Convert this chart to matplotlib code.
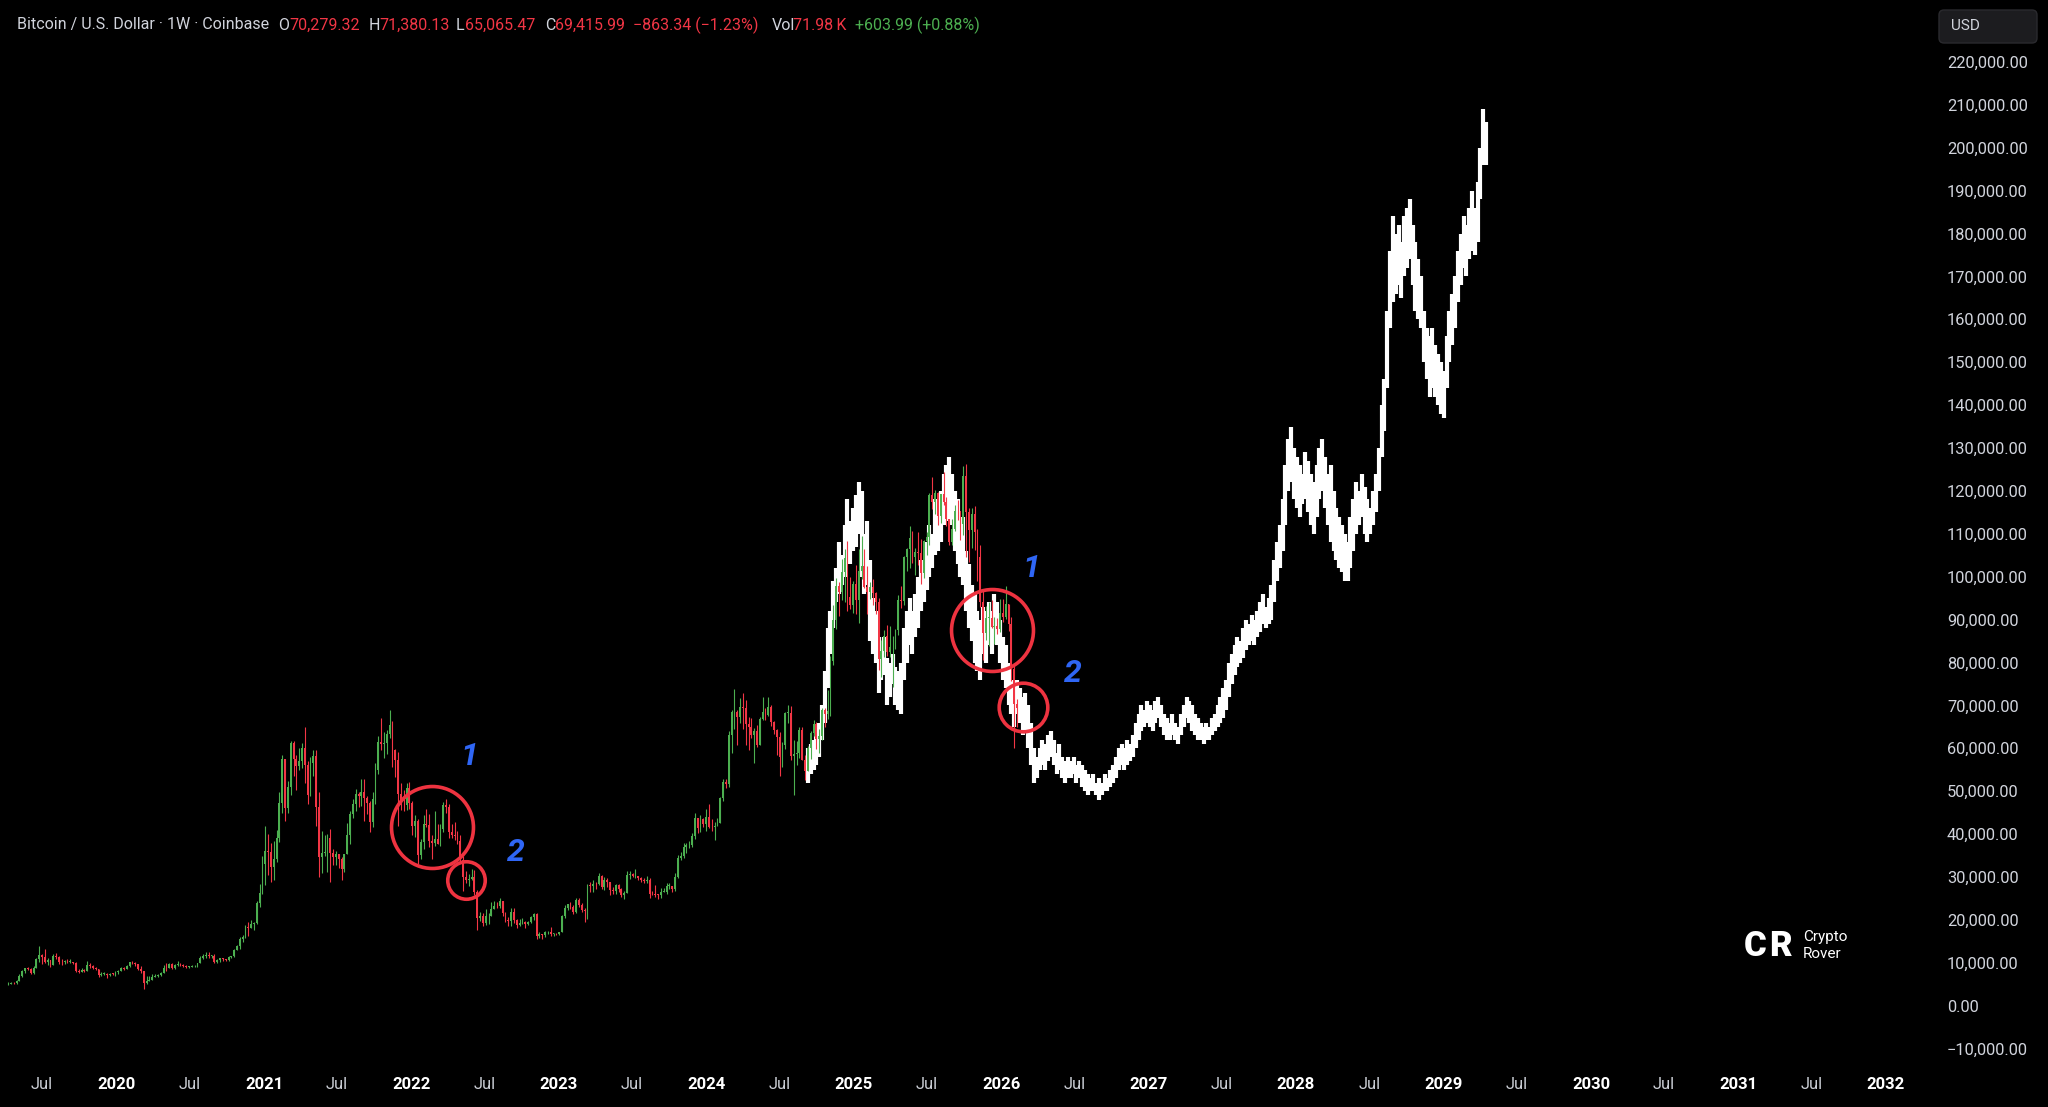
import numpy as np
import matplotlib
matplotlib.use("Agg")
import matplotlib.pyplot as plt
import matplotlib.dates as mdates
from matplotlib.patches import FancyBboxPatch
from matplotlib.ticker import FuncFormatter

FONT = ['Roboto', 'DejaVu Sans']
plt.rcParams['font.family'] = FONT

# ---------------- data (prices in thousands of USD, weekly candles) ----------------
first_week = '2019-04-08'
first_open = 5.0

close_2019 = [5.1, 5.3, 5.2, 5.8, 7.0, 8.1, 8.7, 8.6, 7.7, 8.9, 10.8, 11.9, 11.3, 10.2, 10.6, 9.5, 11.5, 11.4, 10.2, 10.1,
              10.4, 10.3, 10.3, 10.0, 8.0, 7.9, 8.3, 8.2, 9.6, 9.2, 8.8, 8.5, 7.1, 7.5, 7.5, 7.1, 7.5, 7.4, 7.8]
high_2019 = [5.5, 5.6, 5.6, 5.9, 7.5, 8.3, 8.9, 9.1, 8.8, 9.3, 11.2, 13.8, 12.0, 13.2, 11.1, 10.7, 12.0, 12.3, 11.5, 10.9,
             10.7, 10.9, 10.8, 10.3, 10.1, 8.5, 8.7, 8.6, 10.5, 9.9, 9.4, 9.1, 8.5, 7.9, 7.9, 7.6, 7.7, 7.6, 8.0]
low_2019 = [4.9, 5.0, 5.1, 5.1, 5.7, 6.8, 7.6, 8.4, 7.5, 7.5, 8.8, 10.1, 9.7, 9.9, 9.5, 9.1, 9.4, 10.8, 9.7, 9.5,
            9.7, 9.9, 9.9, 9.8, 7.8, 7.7, 7.8, 7.9, 8.0, 8.9, 8.6, 8.4, 6.6, 6.9, 7.2, 6.5, 7.0, 7.2, 7.0]

close_2020 = [8.2, 8.7, 8.6, 9.3, 10.1, 9.9, 9.7, 8.5, 8.0, 5.4, 5.8, 5.9, 6.8, 6.9, 7.1, 7.7, 8.9, 8.7, 9.7, 8.7,
              9.4, 9.7, 9.5, 9.3, 9.1, 9.1, 9.2, 9.2, 9.9, 11.1, 11.6, 11.9, 11.6, 11.6, 10.3, 10.7, 11.1, 10.8, 10.7, 11.4,
              11.5, 13.1, 13.8, 15.5, 16.0, 18.4, 18.2, 19.1, 19.2, 24.0, 26.3, 33.0]
high_2020 = [8.4, 9.0, 9.0, 9.6, 10.2, 10.5, 10.2, 9.8, 9.2, 8.2, 6.9, 7.0, 7.3, 7.5, 7.5, 7.8, 9.5, 10.0, 9.9, 9.9,
             9.7, 10.4, 9.9, 9.8, 9.4, 9.3, 9.5, 9.4, 10.0, 11.5, 12.1, 12.5, 12.5, 11.8, 12.1, 10.9, 11.2, 11.2, 11.0, 11.5,
             11.7, 13.3, 14.1, 15.9, 16.5, 18.8, 19.5, 19.9, 19.4, 24.3, 28.4, 34.8]
low_2020 = [7.3, 8.0, 8.3, 8.5, 9.1, 9.7, 9.3, 8.4, 7.7, 3.8, 5.0, 5.8, 5.9, 6.6, 6.8, 7.0, 7.6, 8.1, 8.8, 8.6,
            8.6, 9.3, 9.2, 9.0, 8.9, 8.9, 9.0, 9.1, 9.1, 9.9, 10.9, 11.2, 11.2, 11.1, 9.9, 9.9, 10.2, 10.4, 10.5, 10.5,
            11.2, 11.4, 12.9, 13.3, 14.8, 15.8, 16.2, 18.0, 17.6, 19.0, 23.0, 26.0]

close_2021 = [36.0, 35.8, 32.3, 34.3, 39.2, 47.2, 57.5, 46.2, 51.0, 61.2, 57.4, 55.8, 57.0, 60.0, 56.2, 49.1, 56.6, 58.2, 46.4, 34.7,
              35.7, 35.8, 39.1, 35.5, 34.7, 35.3, 34.2, 31.8, 35.4, 39.9, 44.6, 47.1, 49.3, 48.9, 49.9, 48.3, 47.3, 42.8, 48.2, 54.9,
              61.5, 60.9, 61.3, 63.3, 65.5, 59.7, 57.3, 49.4, 46.8, 46.7, 50.8, 47.3]
high_2021 = [41.9, 40.1, 37.9, 38.5, 40.9, 49.7, 58.4, 57.5, 52.4, 61.8, 61.7, 58.4, 60.0, 61.2, 64.9, 57.0, 57.9, 59.5, 59.6, 49.8,
             40.8, 39.9, 40.0, 41.3, 36.6, 36.0, 35.0, 34.6, 35.4, 42.6, 45.3, 48.2, 50.5, 49.8, 52.9, 52.9, 48.8, 47.6, 49.8, 56.5,
             62.9, 67.0, 63.7, 64.2, 69.0, 66.3, 59.9, 59.2, 51.9, 50.2, 51.9, 52.1]
low_2021 = [28.1, 30.4, 28.8, 29.2, 33.4, 38.1, 45.0, 43.0, 45.0, 49.0, 53.5, 50.3, 54.9, 55.5, 52.0, 47.0, 48.8, 53.5, 42.0, 30.0,
            31.0, 34.8, 31.1, 28.8, 32.7, 32.7, 32.1, 29.3, 31.1, 36.6, 37.6, 43.8, 45.5, 46.4, 46.5, 43.1, 44.7, 40.6, 41.7, 47.1,
            53.9, 59.5, 57.8, 58.6, 62.3, 55.6, 53.3, 42.0, 45.7, 45.5, 45.6, 45.8]

close_2022 = [41.9, 43.1, 35.1, 38.2, 42.4, 42.2, 38.4, 38.0, 38.8, 37.8, 41.3, 46.8, 46.4, 40.4, 39.7, 39.5, 38.5, 34.0, 30.1, 29.4,
              29.5, 29.9, 26.6, 20.5, 21.0, 19.3, 20.8, 20.8, 22.6, 23.3, 23.2, 24.3, 21.5, 20.0, 19.8, 21.8, 20.0, 18.8, 19.3, 19.4,
              19.1, 19.6, 20.6, 21.3, 16.3, 16.7, 16.5, 17.1, 17.1, 16.8, 16.8, 16.6]
high_2022 = [47.6, 44.4, 43.5, 38.9, 44.5, 45.8, 44.7, 39.8, 45.4, 42.4, 42.3, 47.4, 48.2, 47.0, 42.4, 42.9, 40.8, 39.9, 35.0, 31.3,
             30.6, 31.9, 31.7, 26.9, 21.9, 21.5, 22.5, 21.6, 24.2, 24.5, 24.2, 25.2, 24.4, 21.8, 20.6, 22.8, 22.8, 20.1, 20.1, 20.5,
             19.7, 19.7, 21.0, 21.5, 21.5, 17.2, 16.8, 17.3, 17.4, 18.4, 17.0, 16.9]
low_2022 = [39.7, 39.4, 33.0, 34.1, 36.6, 41.7, 37.0, 34.3, 37.3, 37.6, 37.2, 40.5, 45.0, 39.2, 39.2, 38.6, 37.6, 33.7, 26.7, 28.6,
            28.0, 29.3, 25.9, 17.6, 19.7, 18.6, 18.8, 19.0, 20.8, 22.6, 22.7, 22.7, 20.8, 19.5, 18.6, 18.6, 19.3, 18.1, 18.5, 19.0,
            18.2, 18.8, 19.2, 20.0, 15.6, 15.8, 15.5, 16.0, 16.7, 16.3, 16.3, 16.4]

close_2023 = [17.1, 20.9, 22.7, 23.7, 22.9, 21.8, 24.6, 23.5, 22.2, 22.1, 28.0, 27.9, 28.4, 28.3, 30.3, 27.6, 29.2, 28.9, 26.9, 26.7,
              28.1, 27.1, 25.8, 26.3, 30.5, 30.6, 30.2, 30.2, 29.8, 29.3, 29.0, 29.4, 26.1, 26.0, 25.9, 25.8, 26.5, 26.6, 27.9, 27.9,
              27.1, 30.0, 34.5, 35.0, 37.1, 37.4, 37.4, 39.5, 43.8, 41.4, 43.6, 42.3]
high_2023 = [17.1, 21.2, 23.4, 23.8, 24.2, 23.5, 25.2, 25.1, 23.9, 22.7, 28.4, 28.8, 29.2, 28.8, 30.9, 30.5, 30.0, 29.8, 28.3, 27.7,
             28.4, 28.4, 27.4, 26.8, 31.4, 31.3, 31.0, 31.8, 30.3, 30.0, 29.7, 30.2, 29.7, 26.8, 28.2, 26.0, 27.4, 27.5, 28.6, 28.6,
             28.0, 31.0, 35.2, 35.9, 38.0, 37.9, 38.5, 40.2, 45.0, 43.4, 44.4, 43.8]
low_2023 = [16.5, 17.1, 20.4, 22.3, 22.5, 21.4, 21.5, 23.1, 21.9, 19.6, 20.1, 26.6, 26.6, 27.2, 28.2, 27.1, 27.0, 27.7, 25.8, 26.1,
            26.1, 26.5, 25.4, 24.8, 26.2, 29.6, 29.9, 29.7, 29.2, 28.9, 28.6, 28.7, 25.2, 25.8, 25.4, 24.9, 25.1, 26.4, 26.1, 27.3,
            26.6, 26.8, 29.8, 34.0, 34.5, 35.6, 36.7, 37.1, 38.8, 40.2, 40.6, 41.6]

close_2024 = [43.9, 41.7, 41.6, 42.0, 42.6, 48.3, 52.1, 51.6, 63.1, 68.4, 68.4, 67.2, 69.6, 69.4, 65.7, 64.9, 63.1, 64.0, 60.8, 66.9,
              68.5, 67.8, 69.6, 66.2, 64.3, 62.7, 58.0, 60.8, 68.2, 68.3, 58.1, 58.7, 58.9, 64.2, 57.3, 54.8, 60.0, 63.6, 65.6, 62.1,
              62.9, 69.0, 68.0, 68.7, 80.4, 89.8, 97.8, 96.4, 101.1, 104.3, 95.3, 93.4, 98.4]
high_2024 = [45.9, 47.0, 43.6, 42.8, 43.8, 48.6, 52.8, 52.9, 64.0, 69.0, 73.8, 68.9, 71.7, 72.8, 71.3, 67.2, 67.0, 64.7, 65.5, 67.4,
             71.9, 69.5, 72.0, 70.1, 66.4, 64.5, 63.8, 61.4, 68.4, 70.0, 69.9, 61.9, 61.7, 65.0, 64.9, 58.5, 60.6, 64.1, 66.5, 66.1,
             64.4, 69.4, 69.5, 73.6, 81.5, 93.5, 99.6, 98.8, 104.1, 106.5, 108.4, 99.9, 99.0]
low_2024 = [40.8, 41.5, 40.7, 38.6, 41.8, 42.5, 47.6, 50.7, 50.9, 59.0, 64.5, 60.8, 66.0, 64.5, 60.8, 59.7, 62.4, 56.6, 60.2, 60.8,
            66.6, 66.6, 67.6, 65.1, 63.4, 58.5, 53.5, 55.7, 59.9, 66.0, 57.2, 49.1, 56.1, 57.8, 57.2, 52.6, 54.6, 57.5, 62.8, 59.8,
            58.9, 62.0, 65.0, 66.8, 67.5, 79.5, 87.9, 90.8, 94.5, 94.2, 92.1, 92.5, 91.5]

close_2025 = [94.5, 101.3, 102.6, 97.7, 96.5, 97.5, 96.3, 94.2, 80.7, 82.6, 86.1, 82.5, 83.5, 83.7, 87.5, 94.6, 94.3, 104.6, 106.4, 109.0,
              104.6, 105.7, 105.6, 100.9, 108.4, 109.2, 119.0, 117.3, 119.5, 114.2, 119.3, 117.4, 113.5, 108.2, 111.1, 115.3, 115.2, 112.2, 123.5, 115.1,
              111.0, 114.5, 110.5, 104.7, 94.2, 86.8, 90.4, 90.4, 88.2, 88.4, 87.8, 91.5]
high_2025 = [102.7, 106.4, 109.6, 106.4, 102.5, 98.8, 99.4, 96.5, 95.0, 85.3, 87.5, 88.8, 88.5, 86.1, 87.7, 95.8, 97.9, 104.8, 106.8, 111.9,
             110.7, 106.8, 110.5, 108.9, 108.5, 110.5, 119.5, 123.2, 120.2, 119.8, 119.3, 124.5, 118.6, 113.4, 113.4, 116.8, 117.9, 115.4, 125.7, 126.2,
             115.9, 116.0, 116.4, 111.2, 107.5, 96.6, 93.1, 94.2, 94.6, 90.6, 90.4, 94.7]
low_2025 = [91.2, 89.3, 99.5, 97.3, 91.2, 94.8, 93.4, 91.3, 78.2, 76.6, 81.2, 81.6, 81.2, 74.4, 83.1, 86.4, 92.8, 93.4, 101.4, 102.1,
            103.1, 100.4, 102.8, 98.2, 99.6, 105.1, 107.4, 115.7, 114.7, 112.0, 112.6, 116.8, 111.9, 107.3, 107.3, 110.6, 113.3, 108.6, 109.7, 104.6,
            103.5, 106.7, 106.3, 98.9, 93.0, 80.6, 85.3, 83.8, 88.1, 84.4, 86.6, 87.2]

close_2026 = [90.5, 93.6, 89.0, 78.6, 70.279, 69.416]
high_2026 = [94.8, 97.9, 93.6, 90.5, 79.3, 71.380]
low_2026 = [89.4, 90.1, 87.3, 75.8, 60.0, 65.065]

# white projected bars (high / low), weekly
white_first_week = '2024-09-09'
white_high = [60, 61, 62, 64, 66, 70, 78, 88, 92, 99,
              102, 108, 105, 112, 118, 113, 116, 119, 122, 120,
              110, 113, 104, 95, 92, 86, 84, 86, 81, 80,
              82, 79, 78, 80, 88, 92, 95, 92, 96, 100,
              104, 102, 108, 112, 110, 118, 116, 120, 124, 126,
              128, 124, 120, 118, 112, 114, 106, 103, 98, 96,
              92, 90, 93, 92, 94, 92, 96, 94, 90, 86,
              84, 80, 76, 74, 76, 74, 72, 73, 70, 66,
              60, 58, 60, 62, 61, 63, 64, 62, 59, 61,
              58, 57, 58, 57, 58, 56, 57, 56, 55, 54,
              53, 54, 52, 53, 52, 54, 53, 55, 56, 58,
              60, 61, 60, 62, 61, 63, 66, 68, 70, 69,
              71, 70, 69, 71, 72, 70, 68, 67, 66, 68,
              66, 65, 68, 70, 72, 71, 70, 68, 67, 66,
              65, 66, 65, 67, 68, 70, 72, 74, 76, 80,
              82, 84, 86, 85, 88, 90, 89, 91, 90, 92,
              94, 96, 93, 95, 98, 104, 108, 112, 118, 126,
              132, 135, 130, 128, 126, 124, 129, 127, 124, 122,
              126, 130, 132, 128, 124, 126, 120, 116, 114, 112,
              110, 108, 114, 118, 122, 120, 124, 121, 118, 116,
              120, 124, 130, 140, 146, 162, 176, 184, 180, 182,
              178, 184, 186, 188, 182, 178, 174, 170, 162, 158,
              156, 158, 154, 152, 150, 148, 156, 162, 166, 170,
              176, 180, 184, 182, 186, 190, 186, 192, 200, 209,
              206]
white_low = [52, 54, 55, 56, 58, 62, 66, 74, 82, 88,
             94, 96, 98, 100, 104, 103, 106, 107, 110, 100,
             96, 98, 85, 82, 80, 73, 76, 77, 70, 72,
             75, 70, 69, 68, 76, 80, 84, 82, 86, 88,
             92, 94, 97, 100, 102, 105, 106, 108, 112, 115,
             113, 112, 106, 103, 100, 98, 92, 88, 85, 80,
             78, 76, 82, 80, 84, 82, 86, 84, 80, 76,
             74, 70, 68, 65, 68, 66, 63, 64, 60, 56,
             52, 53, 55, 56, 55, 57, 58, 56, 54, 55,
             53, 52, 53, 53, 54, 52, 53, 51, 50, 49,
             50, 50, 49, 48, 49, 50, 50, 51, 52, 53,
             55, 56, 55, 56, 57, 58, 60, 62, 64, 65,
             66, 65, 64, 66, 67, 65, 63, 62, 62, 63,
             62, 61, 63, 65, 67, 66, 64, 63, 62, 62,
             61, 62, 62, 63, 64, 65, 66, 67, 69, 72,
             75, 77, 79, 80, 81, 83, 84, 85, 84, 86,
             87, 89, 88, 89, 90, 94, 99, 102, 106, 112,
             120, 122, 118, 116, 114, 117, 118, 115, 112, 110,
             114, 118, 120, 116, 112, 108, 106, 104, 102, 101,
             99, 99, 102, 106, 110, 112, 114, 110, 108, 110,
             112, 115, 120, 128, 134, 144, 158, 164, 166, 168,
             165, 170, 172, 174, 168, 162, 160, 158, 150, 146,
             142, 144, 142, 140, 138, 137, 144, 150, 154, 158,
             164, 168, 172, 170, 174, 176, 175, 178, 188, 196,
             196]

# annotations
circle_dates = ['2022-02-20', '2022-05-17', '2025-12-10', '2026-02-25']
circle_prices = [41700, 29300, 87500, 69700]
number_labels = ['1', '2', '1', '2']
number_dates = ['2022-05-25', '2022-09-16', '2026-03-17', '2026-06-27']
number_prices = [58000, 35600, 102000, 77400]

x_tick_labels = ['Jul', '2020', 'Jul', '2021', 'Jul', '2022', 'Jul', '2023', 'Jul', '2024', 'Jul', '2025', 'Jul',
                 '2026', 'Jul', '2027', 'Jul', '2028', 'Jul', '2029', 'Jul', '2030', 'Jul', '2031', 'Jul', '2032']
y_ticks = list(range(-10000, 220001, 10000))

header_parts = [("Bitcoin / U.S. Dollar \u00b7 1W \u00b7 Coinbase", 'txt'), ("O", 'txt'), ("70,279.32", 'dn'),
                ("H", 'txt'), ("71,380.13", 'dn'), ("L", 'txt'), ("65,065.47", 'dn'), ("C", 'txt'),
                ("69,415.99", 'dn'), ("\u2212863.34 (\u22121.23%)", 'dn'), ("Vol", 'txt'), ("71.98\u2009K", 'dn'),
                ("+603.99 (+0.88%)", 'up')]

# ---------------- styling ----------------
UP = '#4caf50'
DN = '#f23645'
TXT = '#d1d4dc'
CIRCLE = '#ee3340'
BLUE = '#2f66f5'
W, H = 2048, 1107

fig = plt.figure(figsize=(W / 100, H / 100), dpi=100, facecolor='black')
ax = fig.add_axes([0, 1 - 1060 / H, 1927 / W, 1060 / H])
ax.set_facecolor('black')
for s in ax.spines.values():
    s.set_visible(False)

# candles
closes = np.array(close_2019 + close_2020 + close_2021 + close_2022 + close_2023 + close_2024 + close_2025 + close_2026) * 1000
highs = np.array(high_2019 + high_2020 + high_2021 + high_2022 + high_2023 + high_2024 + high_2025 + high_2026) * 1000
lows = np.array(low_2019 + low_2020 + low_2021 + low_2022 + low_2023 + low_2024 + low_2025 + low_2026) * 1000
opens = np.concatenate([[first_open * 1000], closes[:-1]])
n = len(closes)
dates = np.datetime64(first_week) + np.arange(n) * np.timedelta64(7, 'D')
x = mdates.date2num(dates)
cols = np.where(closes >= opens, UP, DN)
top = np.maximum(highs, np.maximum(opens, closes))
bot = np.minimum(lows, np.minimum(opens, closes))

# white projection bars
wh = np.array(white_high) * 1000.0
wl = np.array(white_low) * 1000.0
wdates = np.datetime64(white_first_week) + np.arange(len(wh)) * np.timedelta64(7, 'D')
wx = mdates.date2num(wdates)
ax.vlines(wx, wl, wh, colors='white', linewidth=3.0, zorder=2)

ax.vlines(x, bot, top, colors=cols, linewidth=0.8, zorder=3)
ax.bar(x, np.maximum(np.abs(closes - opens), 150), bottom=np.minimum(opens, closes), width=4.5,
       color=cols, linewidth=0, zorder=4)

# circles
for d, p, size in zip(circle_dates, circle_prices, [59, 27, 59, 35]):
    ax.plot(mdates.date2num(np.datetime64(d)), p, marker='o', ms=size, mfc='none', mec=CIRCLE, mew=2.6, zorder=6)

for lbl, d, p in zip(number_labels, number_dates, number_prices):
    ax.text(mdates.date2num(np.datetime64(d)), p, lbl, color=BLUE, fontsize=23, fontweight='bold', fontstyle='italic',
            ha='center', va='center', zorder=7)

# axes limits / ticks
ax.set_xlim(mdates.date2num(np.datetime64('2019-03-19')), mdates.date2num(np.datetime64('2032-04-12')))
ax.set_ylim(-12657, 234429)

tick_dates = []
for yv in range(2019, 2033):
    if yv > 2019:
        tick_dates.append(np.datetime64(f'{yv}-01-01'))
    if yv < 2032:
        tick_dates.append(np.datetime64(f'{yv}-07-01'))
ax.set_xticks(mdates.date2num(np.array(tick_dates)))
ax.set_xticklabels(x_tick_labels)
ax.tick_params(axis='x', length=0, pad=12, labelsize=12)
for t in ax.get_xticklabels():
    if t.get_text() == 'Jul':
        t.set_color('#c9ccd3')
        t.set_fontweight('normal')
    else:
        t.set_color('white')
        t.set_fontweight('bold')

ax.yaxis.tick_right()
ax.set_yticks(y_ticks)
ax.yaxis.set_major_formatter(FuncFormatter(lambda v, p: f"{v:,.2f}".replace('-', '\u2212')))
ax.tick_params(axis='y', length=0, pad=14.4, labelsize=11.8, labelcolor=TXT)

# header
header_x = [17, 278, 289, 369, 379, 456, 465, 545, 555, 633, 772, 793, 855]
cmap = {'txt': TXT, 'dn': DN, 'up': UP}
for (s, kind), hx in zip(header_parts, header_x):
    fig.text(hx / W, 1 - 25 / H, s, color=cmap[kind], fontsize=11.5, ha='left', va='center', family=FONT)

# currency box
box = FancyBboxPatch((1939, H - 43), 98, 33, boxstyle="round,pad=0,rounding_size=5",
                     transform=None, facecolor='#1c1c1f', edgecolor='#2a2a2e', linewidth=1)
fig.add_artist(box)
fig.text(1951 / W, 1 - 26.5 / H, "USD", color=TXT, fontsize=11, ha='left', va='center')

# watermark logo
fig.text(1744 / W, 1 - 946 / H, "C", color='white', fontsize=25, fontweight='heavy', ha='left', va='center')
fig.text(1769 / W, 1 - 946 / H, "R", color='white', fontsize=25, fontweight='heavy', ha='left', va='center')
fig.text(1803 / W, 1 - 937 / H, "Crypto", color='white', fontsize=11, ha='left', va='center')
fig.text(1803 / W, 1 - 954 / H, "Rover", color='white', fontsize=11, ha='left', va='center')

fig.savefig('out.png', dpi=100, facecolor='black')
